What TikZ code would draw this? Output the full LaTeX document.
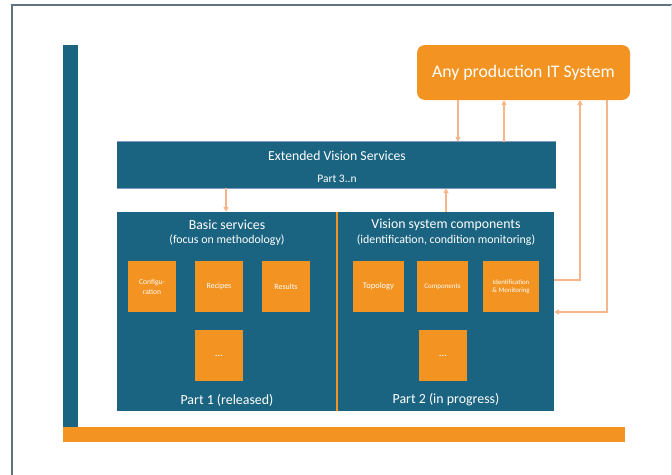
\documentclass[tikz,border=0pt]{standalone}
\usepackage{fontspec}
\setmainfont{Carlito}
\usetikzlibrary{arrows.meta}
\definecolor{teal}{HTML}{1B6481}
\definecolor{orng}{HTML}{F39322}
\definecolor{peach}{HTML}{F7B58A}
\definecolor{framec}{HTML}{5F7380}
\definecolor{edgec}{HTML}{4A6FA5}
\begin{document}
\begin{tikzpicture}[x=1pt,y=-1pt,
  bluebox/.style={fill=teal,draw=none,inner sep=0pt},
  sq/.style={fill=orng,draw=none,inner sep=0pt,minimum width=48pt,minimum height=51pt,
    text=white,font=\fontsize{7}{8.5}\selectfont,align=center},
  wt/.style={text=white,inner sep=0pt,align=center},
  conn/.style={draw=peach,line width=1.3pt,-{Triangle[length=5pt,width=5pt]}}
]
\useasboundingbox (0,0) rectangle (672,474);
% frame
\draw[framec,line width=1.5pt] (12,480) -- (12,5) -- (672,5);
\draw[black!12,line width=1pt] (671,5) -- (671,480);
% left bar and bottom bar
\fill[teal] (63,45) rectangle (78,427);
\fill[orng] (63,427) rectangle (625,442);
% top box
\node[fill=orng,rounded corners=8pt,minimum width=213pt,minimum height=55pt,inner sep=0pt,
  text=white,font=\fontsize{17.7}{20}\selectfont] (it) at (523.5,72.5) {Any production IT System};
% extended
\node[bluebox,minimum width=439pt,minimum height=46pt] (ext) at (336.5,165) {};
\draw[edgec!70,line width=0.8pt] (ext.north west) -- (ext.north east);
\draw[edgec!70,line width=0.8pt] (ext.south west) -- (ext.south east);
\node[wt,font=\fontsize{13.7}{15}\selectfont] (extt) at (337,156) {Extended Vision Services};
\node[wt,font=\fontsize{11.5}{13}\selectfont] (extp) at (337,179) {Part 3..n};
% bottom parts
\node[bluebox,minimum width=220pt,minimum height=199pt] (p1) at (227,311.5) {};
\node[bluebox,minimum width=217pt,minimum height=199pt] (p2) at (445.5,311.5) {};
\draw[orng,line width=1.2pt] (337,212) -- (337,411);
\node[wt,font=\fontsize{13.8}{15}\selectfont] (p1t) at (227,225) {Basic services};
\node[wt,font=\fontsize{11.9}{13}\selectfont] (p1s) at (227,240.5) {(focus on methodology)};
\node[wt,font=\fontsize{13.9}{15}\selectfont] (p1b) at (227,400) {Part 1 (released)};
\node[wt,font=\fontsize{13.8}{15}\selectfont] (p2t) at (446,225) {Vision system components};
\node[wt,font=\fontsize{11.9}{13}\selectfont] (p2s) at (446,240.5) {(identification, condition monitoring)};
\node[wt,font=\fontsize{13.9}{15}\selectfont] (p2b) at (446,400) {Part 2 (in progress)};
% small squares
\node[sq,font=\fontsize{7.5}{10}\selectfont] (cfg) at (152,286.5) {Configu-\\ration};
\node[sq,font=\fontsize{8}{9}\selectfont] (rec) at (219,286.5) {Recipes};
\node[sq,font=\fontsize{8}{9}\selectfont] (res) at (286,286.5) {Results};
\node[sq,font=\fontsize{11}{12}\selectfont] (d1) at (219,355.5) {...};
\node[sq,minimum width=51pt,font=\fontsize{8.5}{10}\selectfont] (top) at (378.5,286.5) {Topology};
\node[sq,minimum width=51pt,font=\fontsize{7}{8}\selectfont] (cmp) at (442.5,286.5) {Components};
\node[sq,minimum width=56pt,font=\fontsize{6.8}{8.5}\selectfont] (idm) at (511,286.5) {Identification\\\& Monitoring};
\node[sq,font=\fontsize{11}{12}\selectfont] (d2) at (443,355.5) {...};
% connectors
\coordinate (a1) at (458,100);
\draw[conn] (a1) -- (a1 |- ext.north);
\coordinate (a2) at (504,142);
\draw[conn] (a2) -- (a2 |- it.south);
\coordinate (a3) at (226,188);
\draw[conn] (a3) -- (a3 |- p1.north);
\coordinate (a4) at (446,212);
\draw[conn] (a4) -- (a4 |- ext.south);
\coordinate (a5) at (554,280);
\draw[conn] (a5) -- (580,280) -- (580,100);
\coordinate (a6) at (607,100);
\draw[conn] (a6) -- (607,312) -- (554,312);
\end{tikzpicture}
\end{document}
